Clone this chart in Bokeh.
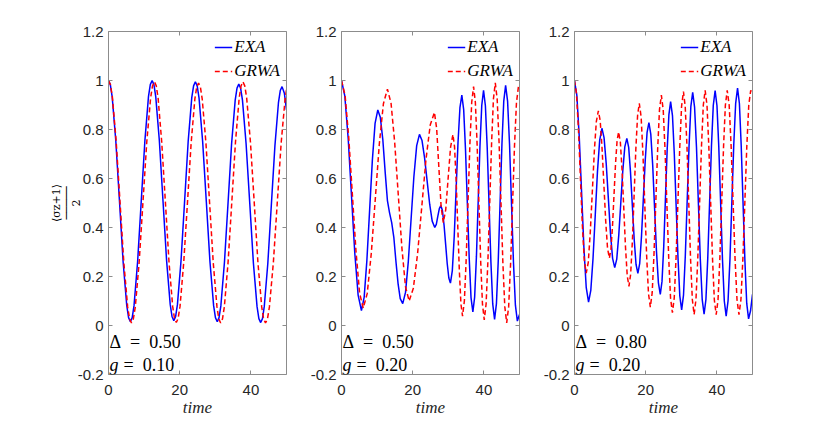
from bokeh.plotting import figure
from bokeh.layouts import row
from bokeh.models import (Range1d, LinearAxis, FixedTicker, CustomJSTickFormatter,
                          Label, CustomLabelingPolicy)
from bokeh.embed import file_html
from bokeh.resources import INLINE

# ---------------- data ----------------
x_ticks = [0, 20, 40]
y_ticks = [-0.2, 0, 0.2, 0.4, 0.6, 0.8, 1.0, 1.2]

# panel 1: Delta = 0.50, g = 0.10
p1_exa_t = [0, 0.51, 1.03, 2.05, 3.08, 4.1, 5.13, 5.64, 6.15, 6.66, 7.17, 8.18, 9.2, 10.22,
            11.23, 11.74, 12.25, 12.76, 13.27, 14.28, 15.3, 16.32, 17.33, 17.84, 18.35, 18.86,
            19.36, 20.37, 21.38, 22.38, 23.39, 23.9, 24.4, 24.91, 25.43, 26.45, 27.48, 28.5,
            29.53, 30.04, 30.55, 31.05, 31.56, 32.57, 33.58, 34.58, 35.59, 36.1, 36.6, 37.11,
            37.63, 38.65, 39.68, 40.7, 41.73, 42.24, 42.75, 43.25, 43.75, 44.75, 45.75, 46.75,
            47.75, 48.25, 48.75, 49.4, 50.0]
p1_exa_v = [1.0, 0.983, 0.934, 0.754, 0.508, 0.261, 0.081, 0.032, 0.015, 0.032, 0.081, 0.261,
            0.508, 0.754, 0.934, 0.983, 1.0, 0.983, 0.934, 0.755, 0.51, 0.265, 0.086, 0.037,
            0.02, 0.037, 0.085, 0.264, 0.508, 0.751, 0.930, 0.978, 0.995, 0.978, 0.929, 0.75,
            0.505, 0.26, 0.081, 0.032, 0.015, 0.032, 0.08, 0.258, 0.5, 0.743, 0.92, 0.969,
            0.985, 0.969, 0.92, 0.742, 0.499, 0.255, 0.077, 0.028, 0.012, 0.028, 0.077, 0.253,
            0.494, 0.734, 0.911, 0.959, 0.975, 0.948, 0.88]
p1_grwa_t = [0, 0.54, 1.08, 2.15, 3.23, 4.3, 5.38, 5.92, 6.45, 6.98, 7.53, 8.6, 9.68, 10.75,
             11.83, 12.36, 12.9, 13.42, 13.93, 14.95, 15.98, 17.0, 18.03, 18.54, 19.05, 19.56,
             20.09, 21.13, 22.18, 23.22, 24.26, 24.78, 25.3, 25.82, 26.33, 27.37, 28.4, 29.43,
             30.47, 30.98, 31.5, 32.02, 32.54, 33.58, 34.63, 35.67, 36.71, 37.23, 37.75, 38.28,
             38.81, 39.87, 40.93, 41.98, 43.04, 43.57, 44.1, 44.65, 45.2, 46.3, 47.4, 48.5,
             49.6, 50.0]
p1_grwa_v = [1.0, 0.983, 0.934, 0.753, 0.505, 0.258, 0.076, 0.027, 0.01, 0.027, 0.076, 0.256,
             0.503, 0.749, 0.929, 0.978, 0.995, 0.978, 0.929, 0.749, 0.504, 0.258, 0.078, 0.029,
             0.012, 0.029, 0.078, 0.257, 0.501, 0.746, 0.925, 0.973, 0.99, 0.973, 0.924, 0.745,
             0.5, 0.255, 0.076, 0.027, 0.01, 0.027, 0.076, 0.256, 0.503, 0.749, 0.929, 0.978,
             0.995, 0.978, 0.929, 0.749, 0.503, 0.256, 0.076, 0.027, 0.01, 0.027, 0.076, 0.255,
             0.5, 0.745, 0.924, 0.963]

# panel 2: Delta = 0.50, g = 0.20
p2_exa_t = [0, 0.93, 1.87, 2.8, 3.73, 4.67, 5.6, 6.37, 7.13, 7.9, 8.67, 9.43, 10.2,
            10.9, 11.6, 12.3, 12.9, 13.5, 14.1, 14.7, 15.3, 15.9, 16.5, 17.2,
            17.98, 18.77, 19.55, 20.33, 21.12, 21.9, 22.62, 23.33, 24.05, 24.77, 25.48, 26.2,
            26.63, 27.05, 27.48, 27.9, 28.35, 28.8, 29.25, 29.7, 30.15, 30.6,
            31.13, 31.67, 32.2, 32.73, 33.27, 33.8, 34.32, 34.83, 35.35, 35.87, 36.38, 36.9,
            37.4, 37.9, 38.4, 38.9, 39.4, 39.9, 40.42, 40.93, 41.45, 41.97, 42.48, 43.0,
            43.52, 44.03, 44.55, 45.07, 45.58, 46.1, 46.65, 47.2, 47.75, 48.3, 48.85, 49.4, 50.0]
p2_exa_v = [1.0, 0.937, 0.765, 0.531, 0.296, 0.124, 0.061, 0.116, 0.266, 0.471, 0.675, 0.825, 0.88,
            0.85, 0.76, 0.62, 0.51, 0.46, 0.42, 0.36, 0.26, 0.17, 0.11, 0.089,
            0.135, 0.262, 0.435, 0.607, 0.734, 0.78, 0.755, 0.685, 0.59, 0.495, 0.426, 0.40,
            0.413, 0.445, 0.477, 0.49, 0.469, 0.411, 0.332, 0.252, 0.194, 0.173,
            0.224, 0.365, 0.557, 0.748, 0.889, 0.94, 0.881, 0.719, 0.498, 0.276, 0.114, 0.055,
            0.116, 0.281, 0.508, 0.734, 0.899, 0.96, 0.897, 0.726, 0.493, 0.259, 0.088, 0.025,
            0.089, 0.264, 0.503, 0.741, 0.916, 0.98, 0.916, 0.74, 0.499, 0.259, 0.083, 0.018, 0.045]
p2_grwa_t = [0, 1.02, 2.03, 3.05, 4.07, 5.08, 6.1, 7.23, 8.37, 9.5, 10.63, 11.77, 12.9,
             13.92, 14.93, 15.95, 16.97, 17.98, 19.0, 20.18, 21.37, 22.55, 23.73, 24.92, 26.1,
             26.73, 27.35, 27.98, 28.6, 29.28, 29.95, 30.63, 31.3,
             31.75, 32.2, 32.65, 33.1, 33.55, 34.0, 34.52, 35.03, 35.55, 36.07, 36.58, 37.1,
             37.6, 38.1, 38.6, 39.1, 39.6, 40.1, 40.62, 41.13, 41.65, 42.17, 42.68, 43.2,
             43.73, 44.27, 44.8, 45.33, 45.87, 46.4, 46.95, 47.5, 48.05, 48.6, 49.15, 49.7, 50.0]
p2_grwa_v = [1.0, 0.938, 0.768, 0.536, 0.303, 0.133, 0.071, 0.131, 0.295, 0.518, 0.742, 0.905, 0.965,
             0.907, 0.749, 0.533, 0.316, 0.158, 0.10, 0.152, 0.293, 0.485, 0.678, 0.818, 0.87,
             0.804, 0.645, 0.486, 0.42, 0.473, 0.60, 0.727, 0.78,
             0.730, 0.595, 0.409, 0.224, 0.088, 0.038, 0.101, 0.272, 0.507, 0.741, 0.912, 0.975,
             0.911, 0.737, 0.499, 0.261, 0.087, 0.023, 0.088, 0.265, 0.507, 0.748, 0.925, 0.99,
             0.924, 0.745, 0.501, 0.256, 0.077, 0.011, 0.076, 0.252, 0.493, 0.734, 0.910, 0.975, 0.97]

# panel 3: Delta = 0.80, g = 0.20
p3_exa_t = [0, 0.66, 1.32, 1.98, 2.63, 3.29, 3.95, 4.58, 5.2, 5.83, 6.45, 7.08, 7.7,
            8.3, 8.9, 9.5, 10.1, 10.7, 11.3, 11.87, 12.43, 13.0, 13.57, 14.13, 14.7,
            15.22, 15.73, 16.25, 16.77, 17.28, 17.8, 18.32, 18.83, 19.35, 19.87, 20.38, 20.9,
            21.43, 21.97, 22.5, 23.03, 23.57, 24.1, 24.58, 25.07, 25.55, 26.03, 26.52, 27.0,
            27.52, 28.03, 28.55, 29.07, 29.58, 30.1, 30.62, 31.13, 31.65, 32.17, 32.68, 33.2,
            33.73, 34.27, 34.8, 35.33, 35.87, 36.4, 36.92, 37.43, 37.95, 38.47, 38.98, 39.5,
            40.02, 40.53, 41.05, 41.57, 42.08, 42.6, 43.13, 43.67, 44.2, 44.73, 45.27, 45.8,
            46.32, 46.83, 47.35, 47.87, 48.38, 48.9, 49.45, 50.0]
p3_exa_v = [1.0, 0.939, 0.774, 0.548, 0.321, 0.156, 0.095, 0.143, 0.273, 0.45, 0.628, 0.757, 0.805,
            0.767, 0.663, 0.521, 0.378, 0.274, 0.236, 0.271, 0.368, 0.5, 0.632, 0.729, 0.764,
            0.727, 0.626, 0.489, 0.351, 0.25, 0.213, 0.254, 0.367, 0.521, 0.674, 0.787, 0.828,
            0.781, 0.653, 0.478, 0.302, 0.174, 0.127, 0.18, 0.324, 0.521, 0.717, 0.861, 0.914,
            0.857, 0.702, 0.489, 0.277, 0.121, 0.064, 0.124, 0.286, 0.508, 0.73, 0.893, 0.952,
            0.891, 0.726, 0.499, 0.273, 0.107, 0.046, 0.107, 0.274, 0.503, 0.731, 0.898, 0.959,
            0.897, 0.729, 0.499, 0.268, 0.1, 0.038, 0.1, 0.271, 0.504, 0.736, 0.907, 0.969,
            0.906, 0.734, 0.498, 0.263, 0.09, 0.027, 0.06, 0.127]
p3_grwa_t = [0, 0.55, 1.1, 1.65, 2.2, 2.75, 3.3, 3.87, 4.43, 5.0, 5.57, 6.13, 6.7,
             7.22, 7.73, 8.25, 8.77, 9.28, 9.8, 10.23, 10.67, 11.1, 11.53, 11.97, 12.4,
             12.88, 13.37, 13.85, 14.33, 14.82, 15.3, 15.78, 16.27, 16.75, 17.23, 17.72, 18.2,
             18.72, 19.23, 19.75, 20.27, 20.78, 21.3, 21.82, 22.33, 22.85, 23.37, 23.88, 24.4,
             24.92, 25.43, 25.95, 26.47, 26.98, 27.5, 28.02, 28.53, 29.05, 29.57, 30.08, 30.6,
             31.1, 31.6, 32.1, 32.6, 33.1, 33.6, 34.12, 34.63, 35.15, 35.67, 36.18, 36.7,
             37.22, 37.73, 38.25, 38.77, 39.28, 39.8, 40.32, 40.83, 41.35, 41.87, 42.38, 42.9,
             43.45, 44.0, 44.55, 45.1, 45.65, 46.2, 46.75, 47.3, 47.85, 48.4, 48.95, 49.5, 50.0]
p3_grwa_v = [1.0, 0.947, 0.804, 0.607, 0.411, 0.267, 0.214, 0.258, 0.38, 0.545, 0.711, 0.832, 0.876,
             0.836, 0.726, 0.576, 0.425, 0.315, 0.275, 0.31, 0.404, 0.533, 0.661, 0.756, 0.79,
             0.748, 0.633, 0.475, 0.318, 0.202, 0.16, 0.21, 0.347, 0.534, 0.72, 0.857, 0.907,
             0.851, 0.699, 0.491, 0.283, 0.131, 0.075, 0.133, 0.291, 0.508, 0.724, 0.882, 0.94,
             0.881, 0.718, 0.496, 0.274, 0.112, 0.052, 0.113, 0.278, 0.504, 0.729, 0.895, 0.955,
             0.894, 0.728, 0.5, 0.273, 0.106, 0.045, 0.106, 0.274, 0.503, 0.731, 0.899, 0.96,
             0.899, 0.731, 0.502, 0.273, 0.105, 0.044, 0.105, 0.273, 0.502, 0.731, 0.899, 0.96,
             0.899, 0.731, 0.502, 0.273, 0.105, 0.044, 0.105, 0.273, 0.502, 0.731, 0.899, 0.96, 0.945]

deltas = ["0.50", "0.50", "0.80"]
gs = ["0.10", "0.20", "0.20"]
series_names = ["EXA", "GRWA"]
y_label = "\u27e8\u03c3z+1\u27e9\n\u2500\u2500\u2500\u2500\u2500\n2"

# ---------------- styling ----------------
AX = "#8c8c8c"
TXT = "#262626"
SERIF = "Liberation Serif"
SANS = "Liberation Sans"
EN = "\u2002"

yfmt = CustomJSTickFormatter(code="""
if (Math.abs(tick) < 1e-9) return '0';
if (Math.abs(tick - Math.round(tick)) < 1e-9) return tick.toFixed(0);
return tick.toFixed(1);
""")


def style_axis(ax, labels=True):
    ax.axis_line_color = AX
    ax.axis_line_width = 1
    ax.major_tick_line_color = AX
    ax.major_tick_in = 4
    ax.major_tick_out = 0
    ax.minor_tick_line_color = None
    ax.major_label_text_font = SANS
    ax.major_label_text_color = TXT
    if labels:
        ax.major_label_text_font_size = "15px"
    else:
        ax.major_label_text_font_size = "1px"
        ax.major_label_standoff = 0
        ax.major_label_policy = CustomLabelingPolicy(code="return [];")


def panel(te, ve, tg, vg, dtxt, gtxt, left, right, ylabel=False):
    p = figure(frame_width=178, frame_height=343, output_backend="svg",
               toolbar_location=None, x_range=Range1d(0, 50), y_range=Range1d(-0.2, 1.2),
               min_border_left=left, min_border_right=right,
               min_border_top=31, min_border_bottom=40)
    p.outline_line_color = None
    p.grid.visible = False
    p.background_fill_color = "white"
    p.border_fill_color = "white"

    p.xaxis.ticker = FixedTicker(ticks=x_ticks)
    p.yaxis.ticker = FixedTicker(ticks=y_ticks)
    p.yaxis.formatter = yfmt
    style_axis(p.xaxis[0])
    style_axis(p.yaxis[0])
    p.xaxis.major_label_standoff = 10
    p.yaxis.major_label_standoff = 5
    p.xaxis.axis_label = "time"
    p.xaxis.axis_label_text_font = SERIF
    p.xaxis.axis_label_text_font_style = "italic"
    p.xaxis.axis_label_text_font_size = "17px"
    p.xaxis.axis_label_text_color = TXT
    p.xaxis.axis_label_standoff = 0

    if ylabel:
        p.yaxis.axis_label = y_label
        p.yaxis.axis_label_text_font = "DejaVu Serif"
        p.yaxis.axis_label_text_font_style = "normal"
        p.yaxis.axis_label_text_font_size = "11px"
        p.yaxis.axis_label_text_color = "black"
        p.yaxis.axis_label_text_line_height = 0.75
        p.yaxis.axis_label_standoff = -8

    top = LinearAxis(ticker=FixedTicker(ticks=x_ticks))
    style_axis(top, labels=False)
    p.add_layout(top, "above")
    rgt = LinearAxis(ticker=FixedTicker(ticks=y_ticks))
    style_axis(rgt, labels=False)
    p.add_layout(rgt, "right")

    p.line(te, ve, color="#0000ff", line_width=1.5, legend_label=series_names[0])
    p.line(tg, vg, color="#ff0000", line_width=1.5, line_dash="5 3",
           legend_label=series_names[1])

    lg = p.legend[0]
    lg.location = "top_right"
    lg.border_line_color = None
    lg.background_fill_alpha = 0
    lg.label_text_font = SERIF
    lg.label_text_font_style = "italic"
    lg.label_text_font_size = "17px"
    lg.label_text_color = "black"
    lg.glyph_width = 18
    lg.glyph_height = 18
    lg.label_height = 18
    lg.label_standoff = 2
    lg.spacing = 4
    lg.padding = 2
    lg.margin = 6

    p.add_layout(Label(x=1, y=33, x_units="screen", y_units="screen",
                       text="\u0394" + EN + "=" + EN + dtxt, text_font=SERIF,
                       text_font_size="18px", text_color="black",
                       text_baseline="alphabetic", text_align="left"))
    p.add_layout(Label(x=1, y=10, x_units="screen", y_units="screen",
                       text="g", text_font=SERIF, text_font_style="italic",
                       text_font_size="18px", text_color="black",
                       text_baseline="alphabetic", text_align="left"))
    p.add_layout(Label(x=15, y=10, x_units="screen", y_units="screen",
                       text="=" + EN + gtxt, text_font=SERIF,
                       text_font_size="18px", text_color="black",
                       text_baseline="alphabetic", text_align="left"))
    return p


f1 = panel(p1_exa_t, p1_exa_v, p1_grwa_t, p1_grwa_v, deltas[0], gs[0], 108, 20, ylabel=True)
f2 = panel(p2_exa_t, p2_exa_v, p2_grwa_t, p2_grwa_v, deltas[1], gs[1], 35, 20)
f3 = panel(p3_exa_t, p3_exa_v, p3_grwa_t, p3_grwa_v, deltas[2], gs[2], 35, 40)

layout = row(f1, f2, f3)
open("out.html", "w").write(file_html(layout, INLINE))
